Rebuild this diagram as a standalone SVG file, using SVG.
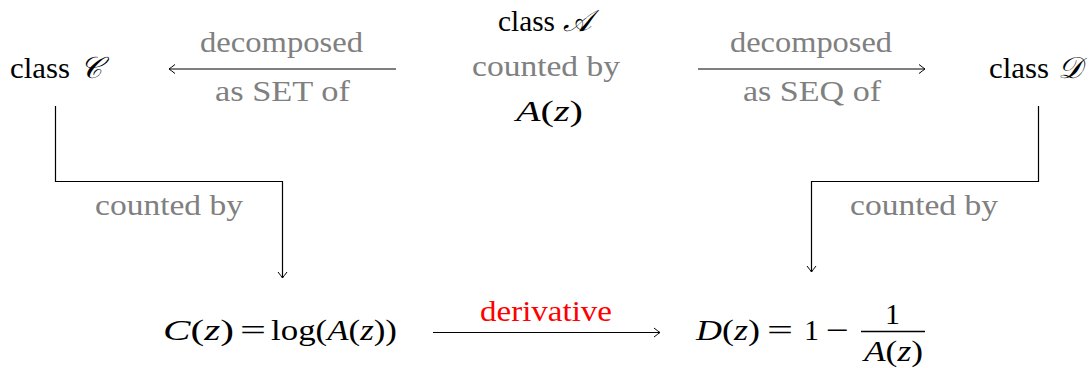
<svg xmlns="http://www.w3.org/2000/svg" width="1091" height="368" viewBox="0 0 1091 368">
<style>
.t{font-family:'Liberation Serif','DejaVu Serif',serif;font-size:30px;fill:#000}
.g{fill:#808080}
.r{fill:#ff0000}
.i{font-style:italic}
.e{stroke:#000;stroke-width:1.2;fill:none}
</style>
<defs>
<marker id="ah" viewBox="-8 -6 10 12" markerWidth="10" markerHeight="12" refX="0" refY="0" orient="auto" markerUnits="userSpaceOnUse">
<path d="M-6,-4.5 Q-1.5,-1 0,0 Q-1.5,1 -6,4.5" fill="none" stroke="#000" stroke-width="1"/>
</marker>
</defs>
<g id="connectors" class="t">
<path class="e" d="M396,69 H169" marker-end="url(#ah)"/>
<path class="e" d="M698,69 H925" marker-end="url(#ah)"/>
<path class="e" d="M55.5,106 V181.5 H282.5 V278" marker-end="url(#ah)"/>
<path class="e" d="M1038.5,106 V181.5 H811.5 V272" marker-end="url(#ah)"/>
<path class="e" d="M433,332.5 H660" marker-end="url(#ah)"/>
<text class="g" x="281.5" y="52" text-anchor="middle" textLength="163" lengthAdjust="spacingAndGlyphs">decomposed</text>
<text class="g" x="282.5" y="101" text-anchor="middle" textLength="135" lengthAdjust="spacingAndGlyphs">as SET of</text>
<text class="g" x="811" y="52" text-anchor="middle" textLength="162" lengthAdjust="spacingAndGlyphs">decomposed</text>
<text class="g" x="812" y="101" text-anchor="middle" textLength="138" lengthAdjust="spacingAndGlyphs">as SEQ of</text>
<text class="g" x="169" y="215" text-anchor="middle" textLength="148" lengthAdjust="spacingAndGlyphs">counted by</text>
<text class="g" x="924" y="215" text-anchor="middle" textLength="148" lengthAdjust="spacingAndGlyphs">counted by</text>
<text class="r" x="546" y="321" text-anchor="middle" textLength="132" lengthAdjust="spacingAndGlyphs">derivative</text>
</g>
<g id="nodeC" class="t">
<text x="10" y="78"><tspan textLength="60" lengthAdjust="spacingAndGlyphs">class</tspan><tspan class="i" x="80">𝒞</tspan></text>
</g>
<g id="nodeA" class="t">
<text x="498" y="31"><tspan textLength="57" lengthAdjust="spacingAndGlyphs">class</tspan><tspan class="i" x="563">𝒜</tspan></text>
<text class="g" x="546" y="76" text-anchor="middle" textLength="148" lengthAdjust="spacingAndGlyphs">counted by</text>
<text x="516" y="121" textLength="67" lengthAdjust="spacingAndGlyphs"><tspan class="i">A</tspan>(<tspan class="i">z</tspan>)</text>
</g>
<g id="nodeD" class="t">
<text x="989" y="78"><tspan textLength="60" lengthAdjust="spacingAndGlyphs">class</tspan><tspan class="i" x="1058">𝒟</tspan></text>
</g>
<g id="nodeCz" class="t">
<text x="163" y="340"><tspan textLength="71" lengthAdjust="spacingAndGlyphs"><tspan class="i">C</tspan>(<tspan class="i">z</tspan>)</tspan><tspan x="240" textLength="26" lengthAdjust="spacingAndGlyphs">=</tspan><tspan x="271" textLength="126" lengthAdjust="spacingAndGlyphs">log(<tspan class="i">A</tspan>(<tspan class="i">z</tspan>))</tspan></text>
</g>
<g id="nodeDz" class="t">
<text x="696" y="340"><tspan textLength="64" lengthAdjust="spacingAndGlyphs"><tspan class="i">D</tspan>(<tspan class="i">z</tspan>)</tspan><tspan x="767" textLength="26" lengthAdjust="spacingAndGlyphs">=</tspan><tspan x="804">1</tspan><tspan x="826" textLength="23" lengthAdjust="spacingAndGlyphs">−</tspan></text>
<text x="892.5" y="324" text-anchor="middle">1</text>
<line x1="861" y1="331.5" x2="925" y2="331.5" stroke="#000" stroke-width="1.6"/>
<text x="864" y="361" textLength="59" lengthAdjust="spacingAndGlyphs"><tspan class="i">A</tspan>(<tspan class="i">z</tspan>)</text>
</g>
</svg>
